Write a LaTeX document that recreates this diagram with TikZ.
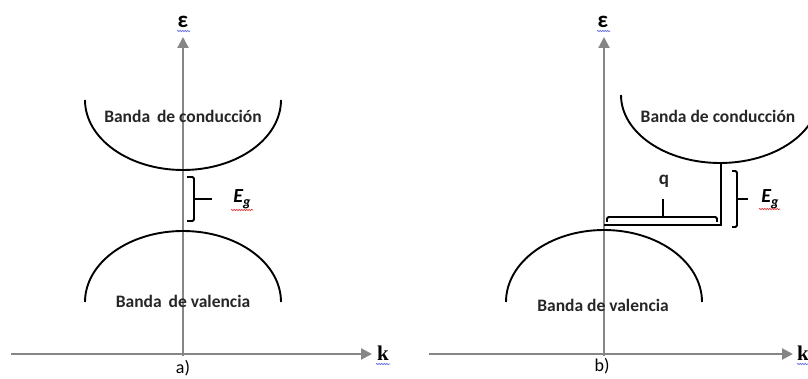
\documentclass[tikz,border=0pt]{standalone}
\usepackage{fontspec}
\setmainfont{Carlito}
\newfontfamily\serifk{Liberation Serif}
\usetikzlibrary{arrows.meta,decorations.pathmorphing}
\definecolor{axisgray}{RGB}{134,134,134}
\definecolor{wavyblue}{RGB}{100,110,230}
\definecolor{wavyred}{RGB}{225,60,60}
\begin{document}
\begin{tikzpicture}[x=1pt,y=-1pt,
  axis/.style={draw=axisgray,line width=2.2pt,-{Triangle[length=11pt,width=11pt]}},
  band/.style={draw=black,line width=1.9pt},
  bracebox/.style={draw=black,line width=1.8pt,rounded corners=1.5pt},
  thinline/.style={draw=black,line width=1.3pt},
  bandlabel/.style={font=\fontsize{17.5}{20}\selectfont\bfseries,inner sep=0pt,text=black!85},
  panel/.style={font=\fontsize{18}{20}\selectfont,inner sep=0pt},
  axlabel/.style={font=\serifk\fontsize{21}{22}\selectfont\bfseries,inner sep=0pt},
  epslabel/.style={font=\fontsize{23}{24}\selectfont\bfseries,inner sep=0pt},
  eglabel/.style={font=\fontsize{20}{22}\selectfont\bfseries\itshape,inner sep=0pt},
  spell/.style={line width=0.7pt,decorate,decoration={snake,amplitude=0.7pt,segment length=2.5pt}}
]
\useasboundingbox (0,0) rectangle (808,379);

% ---------------- panel a ----------------
\coordinate (axs) at (11,354);
\coordinate (axe) at (372,354);
\coordinate (ays) at (183,356);
\coordinate (aye) at (183,37);
\draw[axis] (axs) -- (axe);
\draw[axis] (ays) -- (aye);
\node[axlabel] (ak) at (383,353) {k};
\node[epslabel] (aeps) at (183,22) {ε};
\draw[spell,wavyblue] (177,31) -- (190,31);
\draw[spell,wavyblue] (376,364) -- (390,364);

\draw[band] (85,100) arc[start angle=180,end angle=0,x radius=98,y radius=70];
\draw[band] (85,302) arc[start angle=180,end angle=360,x radius=98,y radius=71];
\node[bandlabel] (acond) at (183,116) {Banda\, de conducción};
\node[bandlabel] (aval) at (183,301) {Banda\, de valencia};

\draw[bracebox] (187,177) -- (194,177) -- (194,221) -- (187,221);
\coordinate (atick) at (194,199);
\coordinate (atickend) at (212,199);
\draw[bracebox] (atick) -- (atickend);
\node[eglabel] (aeg) at (242,199) {E\raisebox{-0.35ex}{\fontsize{14}{14}\selectfont g}};
\draw[spell,wavyred] (231,210) -- (253,210);

\node[panel] (alab) at (183,368) {a)};

% ---------------- panel b ----------------
\coordinate (bxs) at (429,354);
\coordinate (bxe) at (793,354);
\coordinate (bys) at (604,356);
\coordinate (bye) at (604,37);
\draw[axis] (bxs) -- (bxe);
\draw[axis] (bys) -- (bye);
\node[axlabel] (bk) at (803,353) {k};
\node[epslabel] (beps) at (603,22) {ε};
\draw[spell,wavyblue] (597,31) -- (610,31);
\draw[spell,wavyblue] (797,364) -- (808,364);

\begin{scope}
\clip (0,0) rectangle (808,379);
\draw[band] (621,95) arc[start angle=180,end angle=0,x radius=99,y radius=68];
\end{scope}
\draw[band] (506,302) arc[start angle=180,end angle=360,x radius=98,y radius=72];
\node[bandlabel] (bcond) at (718,116) {Banda de conducción};
\node[bandlabel] (bval) at (603,305) {Banda de valencia};

% q marker
\coordinate (bmin) at (721,164);
\coordinate (bcorner) at (721,225);
\coordinate (baxis) at (604,225);
\draw[thinline] (bmin) -- (bcorner) -- (baxis);
\draw[bracebox] (607,222) -- (607,217) -- (717,217) -- (717,222);
\coordinate (qtick) at (663,217);
\coordinate (qtickend) at (663,199);
\draw[bracebox] (qtick) -- (qtickend);
\node[font=\fontsize{19}{20}\selectfont\bfseries,inner sep=0pt,text=black!85] (bq) at (664,181) {q};

\draw[bracebox] (732,171) -- (737,171) -- (737,227) -- (732,227);
\coordinate (btick) at (737,199);
\coordinate (btickend) at (748,199);
\draw[bracebox] (btick) -- (btickend);
\node[eglabel] (beg) at (770,199) {E\raisebox{-0.35ex}{\fontsize{14}{14}\selectfont g}};
\draw[spell,wavyred] (759,209) -- (780,209);

\node[panel] (blab) at (602,366) {b)};
\end{tikzpicture}
\end{document}
